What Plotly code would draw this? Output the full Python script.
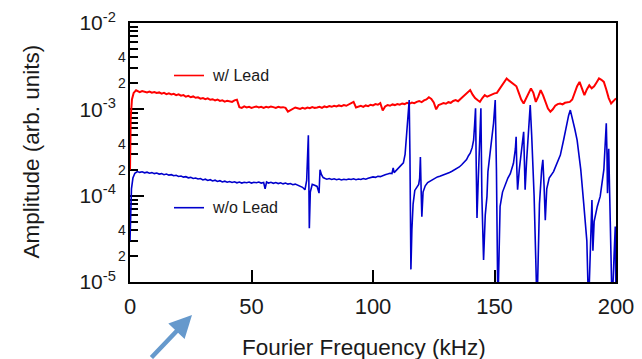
import plotly.graph_objects as go
import math

# ---------------- data ----------------
red_x = [0, 0.3, 0.8, 1.5, 2.5] + list(range(3, 201))
red_y_e3 = [0.2, 0.8, 1.3, 1.55, 1.66,
    1.62, 1.58, 1.63, 1.60, 1.57, 1.61, 1.56, 1.59, 1.55, 1.57,          # 3-12
    1.52, 1.55, 1.50, 1.53, 1.49, 1.51, 1.46, 1.49, 1.44, 1.46,          # 13-22
    1.40, 1.43, 1.38, 1.41, 1.36, 1.38, 1.33, 1.35, 1.31, 1.34,          # 23-32
    1.29, 1.31, 1.27, 1.30, 1.25, 1.27, 1.23, 1.26, 1.24, 1.22,          # 33-42
    1.27, 1.29,                                                          # 43-44
    1.06, 1.04, 1.08, 1.05, 1.07, 1.04, 1.06, 1.08, 1.05, 1.07,          # 45-54
    1.04, 1.07, 1.05, 1.08, 1.06, 1.04, 1.07, 1.05, 1.06, 1.04,          # 55-64
    0.94, 0.97,                                                          # 65-66
    1.02, 1.05, 1.03, 1.01, 1.04, 1.02, 1.05, 1.03, 1.06, 1.04,          # 67-76
    1.05, 1.07, 1.04, 1.08, 1.06, 1.09, 1.07, 1.10, 1.08, 1.11,          # 77-86
    1.09, 1.12, 1.10, 1.14, 1.18,                                        # 87-91
    1.22, 1.05,                                                          # 92-93
    1.08, 1.10, 1.07, 1.11, 1.09, 1.13, 1.11, 1.15, 1.13, 1.18,          # 94-103
    0.97, 1.08,                                                          # 104-105
    1.12, 1.10, 1.14, 1.12, 1.15, 1.13, 1.17, 1.15, 1.19, 1.16,          # 106-115
    1.20, 1.18, 1.22, 1.25, 1.21, 1.27, 1.30, 1.38, 1.32, 1.20,          # 116-125
    1.00, 1.12,                                                          # 126-127
    1.15, 1.18, 1.16, 1.21, 1.19, 1.25, 1.28, 1.24, 1.32, 1.40,          # 128-137
    1.50, 1.58, 1.67,                                                    # 138-140
    1.48, 1.35, 1.28, 1.22, 1.35, 1.46, 1.40, 1.45, 1.50, 1.53,          # 141-150
    1.55, 1.70, 1.90, 2.10, 2.28, 2.15, 2.05, 1.95, 1.85, 1.55,          # 151-160
    1.30, 1.17, 1.35, 1.55, 1.75, 1.55, 1.22, 1.40, 1.67, 1.45,          # 161-170
    1.20, 1.02, 0.94, 1.00, 1.10, 1.15, 1.17, 1.14, 1.19, 1.20,          # 171-180
    1.22, 1.30, 1.55, 1.85, 2.08, 1.75, 1.46, 1.70, 1.90, 1.75,          # 181-190
    1.85, 2.05, 2.28, 2.20, 2.08, 1.70, 1.35, 1.17, 1.25, 1.34]          # 191-200
red_y = [v * 1e-3 for v in red_y_e3]

blue_x = [0, 0.2, 0.6, 1.2, 2, 3, 4, 5, 6, 7, 8, 9, 10, 11, 12, 13, 14, 15, 16, 17, 18, 19,
    20, 21, 22, 23, 24, 25, 26, 27, 28, 29, 30, 31, 32, 33, 34, 35, 36, 37, 38, 39,
    40, 41, 42, 43, 44, 45, 46, 47, 48, 49, 50, 51, 52, 53, 54, 55, 55.6, 56.2, 57, 58, 59,
    60, 61, 62, 63, 64, 65, 66, 67, 68, 69, 70, 71, 72, 72.7, 73.1, 73.4, 73.6, 73.8, 74.2,
    75, 76, 77, 77.8, 78.2, 78.8, 79.5, 80.3, 81, 82, 83, 84, 85, 86, 87, 88, 89,
    90, 91, 92, 93, 94, 95, 96, 97, 98, 99, 100, 101, 102, 103, 104, 105, 106, 107,
    107.8, 108.3, 108.7, 109.5, 110.5, 111.5, 112.5, 113.2, 113.6, 114.2, 114.9, 115.2,
    115.6, 116.0, 116.5, 117.2, 118, 118.8, 119.2, 119.5, 119.8, 120.1, 120.6, 121.5,
    122.5, 123.5, 124.5, 125.5, 126.5, 127.5, 128.5, 129.5, 130.5, 131.5, 132.5, 133.5,
    134.5, 135.5, 136.5, 137.5, 138.5, 139.3, 140, 140.8, 141.4, 141.8, 142.2, 142.5,
    142.8, 143.3, 143.9, 144.4, 144.8, 145.5, 146.2, 146.9, 147.3, 148.5, 149.6, 150.3,
    150.8, 151.4, 152.3, 153.3, 154.6, 155.5, 156.5, 157.8, 158.6, 158.9, 159.2, 159.5,
    160.2, 161.3, 162, 162.3, 162.6, 163.2, 164, 164.7, 165.3, 166.3, 167.5, 168.5,
    169.4, 169.9, 170.4, 170.9, 171.5, 172.5, 174.3, 175.5, 177.1, 178.5, 179.8, 180.5,
    181.2, 181.8, 183, 184, 185.5, 186.7, 188, 188.7, 189.5, 190.1, 190.5, 191, 192.3,
    193.5, 195, 196, 196.3, 196.5, 197, 197.5, 198.4, 199.2, 199.7, 200]
blue_y_e4 = [0.3, 0.6, 1.2, 1.6, 1.82, 1.9, 1.86, 1.89, 1.84, 1.87, 1.82, 1.85, 1.80, 1.83,
    1.78, 1.80, 1.75, 1.78, 1.73, 1.75, 1.70, 1.72,
    1.67, 1.69, 1.64, 1.66, 1.61, 1.63, 1.58, 1.60, 1.56, 1.58, 1.52, 1.55, 1.50, 1.53,
    1.48, 1.51, 1.46, 1.49, 1.44, 1.47,
    1.43, 1.46, 1.42, 1.45, 1.41, 1.44, 1.40, 1.43, 1.41, 1.44, 1.40, 1.43, 1.41, 1.44,
    1.40, 1.42, 1.20, 1.44, 1.40, 1.43, 1.39,
    1.42, 1.38, 1.41, 1.37, 1.40, 1.36, 1.38, 1.34, 1.36, 1.32, 1.30, 1.25, 1.17, 1.5,
    3.0, 5.0, 1.5, 0.42, 1.1,
    1.35, 1.32, 1.28, 1.07, 2.0, 1.75, 1.62, 1.58, 1.55, 1.58, 1.54, 1.57, 1.53, 1.56,
    1.52, 1.55, 1.53,
    1.56, 1.54, 1.57, 1.53, 1.56, 1.54, 1.58, 1.55, 1.59, 1.62, 1.65, 1.63, 1.68, 1.66,
    1.72, 1.75, 1.78, 1.82,
    1.8, 2.1, 1.85, 1.95, 2.05, 2.2, 2.4, 3.0, 4.4, 7.0, 12.8, 3.0,
    0.14, 0.4, 0.8, 1.15, 1.25, 1.35, 1.6, 2.8, 1.2, 0.57, 1.1, 1.3,
    1.42, 1.48, 1.55, 1.6, 1.65, 1.68, 1.72, 1.75, 1.8, 1.86, 1.92, 1.98,
    2.07, 2.15, 2.28, 2.42, 2.62, 2.9, 3.1, 3.6, 4.4, 6.5, 10.3, 2.0,
    0.55, 1.5, 4.0, 10.3, 1.0, 0.18, 0.6, 0.98, 1.9, 3.5, 6.9, 12.8,
    2.0, 0.05, 0.75, 1.1, 1.4, 1.6, 1.8, 2.37, 3.5, 4.8, 2.0, 1.17,
    2.0, 3.8, 5.5, 2.5, 1.17, 2.5, 5.0, 11.2, 5.0, 1.0, 0.05, 0.8,
    2.0, 2.6, 1.3, 0.52, 1.2, 1.6, 1.9, 2.3, 2.95, 4.5, 6.9, 8.5,
    9.8, 8.5, 6.0, 4.4, 2.0, 0.82, 0.3, 0.05, 0.4, 0.89, 0.23, 0.5, 0.75,
    0.98, 2.0, 6.9, 3.0, 1.07, 3.5, 1.0, 0.05, 0.2, 0.44, 0.05]
blue_y = [v * 1e-4 for v in blue_y_e4]

series_names = ["w/ Lead", "w/o Lead"]
series_colors = ["#ff0000", "#0000cc"]

x_tick_vals = [0, 50, 100, 150, 200]
x_tick_text = ["0", "50", "100", "150", "200"]
y_major_vals = [1e-5, 1e-4, 1e-3, 1e-2]
y_major_text = ["10<sup>-5</sup>", "10<sup>-4</sup>", "10<sup>-3</sup>", "10<sup>-2</sup>"]
y_minor_label_vals = [2e-5, 4e-5, 2e-4, 4e-4, 2e-3, 4e-3]
y_minor_label_text = ["2", "4", "2", "4", "2", "4"]
y_minor_vals = [m * 10 ** e for e in (-5, -4, -3) for m in range(2, 10)]

x_title = "Fourier Frequency (kHz)"
y_title = "Amplitude (arb. units)"

FONT = "Liberation Sans, Arial, sans-serif"
TXT = "#1a1a1a"

fig = go.Figure()
fig.add_trace(go.Scatter(x=red_x, y=red_y, mode="lines", name=series_names[0],
                         line=dict(color=series_colors[0], width=2), showlegend=False))
fig.add_trace(go.Scatter(x=blue_x, y=blue_y, mode="lines", name=series_names[1],
                         line=dict(color=series_colors[1], width=1.6), showlegend=False))

# plot area in px: x 130..616, y 23..282
L, R, T, B = 130, 26, 23, 77
W, H = 642, 359
PW, PH = W - L - R, H - T - B

def px(xp):
    return (xp - L) / PW

def py(yp):
    return (H - B - yp) / PH

# legend-like labels
legend_pos = [(75.5, series_colors[0], series_names[0]), (207.7, series_colors[1], series_names[1])]
for ypix, col, name in legend_pos:
    fig.add_shape(type="line", xref="paper", yref="paper",
                  x0=px(174), x1=px(204), y0=py(ypix), y1=py(ypix),
                  line=dict(color=col, width=1.6))
    fig.add_annotation(xref="paper", yref="paper", x=px(210), y=py(ypix),
                       xanchor="left", yanchor="middle", text=name, showarrow=False,
                       font=dict(family=FONT, size=16, color=TXT))

# minor y labels
for v, t in zip(y_minor_label_vals, y_minor_label_text):
    fig.add_annotation(xref="paper", yref="y", x=px(127.5), y=math.log10(v),
                       xanchor="right", yanchor="middle", text=t, showarrow=False,
                       font=dict(family=FONT, size=14, color=TXT))

# axis titles
fig.add_annotation(xref="paper", yref="paper", x=px(364), y=py(347),
                   text=x_title, showarrow=False, xanchor="center", yanchor="middle",
                   font=dict(family=FONT, size=22.5, color=TXT))
fig.add_annotation(xref="paper", yref="paper", x=px(31), y=py(151.5),
                   text=y_title, showarrow=False, xanchor="center", yanchor="middle",
                   textangle=-90, font=dict(family=FONT, size=22.5, color=TXT))

# blue arrow
fig.add_annotation(xref="paper", yref="paper", x=px(192), y=py(315), ax=-42, ay=46,
                   axref="pixel", ayref="pixel", text="", showarrow=True,
                   arrowhead=2, arrowsize=1, arrowwidth=4.5, arrowcolor="#6699cc")

fig.update_layout(
    width=W, height=H, margin=dict(l=L, r=R, t=T, b=B, autoexpand=False),
    paper_bgcolor="white", plot_bgcolor="white",
    font=dict(family=FONT, color=TXT),
    xaxis=dict(range=[0, 200], tickvals=x_tick_vals, ticktext=x_tick_text,
               ticks="inside", ticklen=12, tickwidth=2, tickcolor="black",
               showline=True, linecolor="black", linewidth=2, mirror=True,
               showgrid=False, zeroline=False, tickfont=dict(size=22, family=FONT, color=TXT),
               ticklabelstandoff=4, layer="below traces"),
    yaxis=dict(type="log", range=[-5, -2], tickvals=y_major_vals, ticktext=y_major_text,
               ticks="inside", ticklen=14, tickwidth=2, tickcolor="black",
               showline=True, linecolor="black", linewidth=2, mirror=True,
               showgrid=False, zeroline=False, tickfont=dict(size=21, family=FONT, color=TXT),
               ticklabelstandoff=8, layer="below traces",
               minor=dict(tickvals=y_minor_vals, ticks="inside", ticklen=8, tickwidth=1.5,
                          tickcolor="black", showgrid=False)),
)

fig.write_html("out.html", config={"displayModeBar": False},
               post_script="document.body.style.margin='0';document.body.style.padding='0';")
